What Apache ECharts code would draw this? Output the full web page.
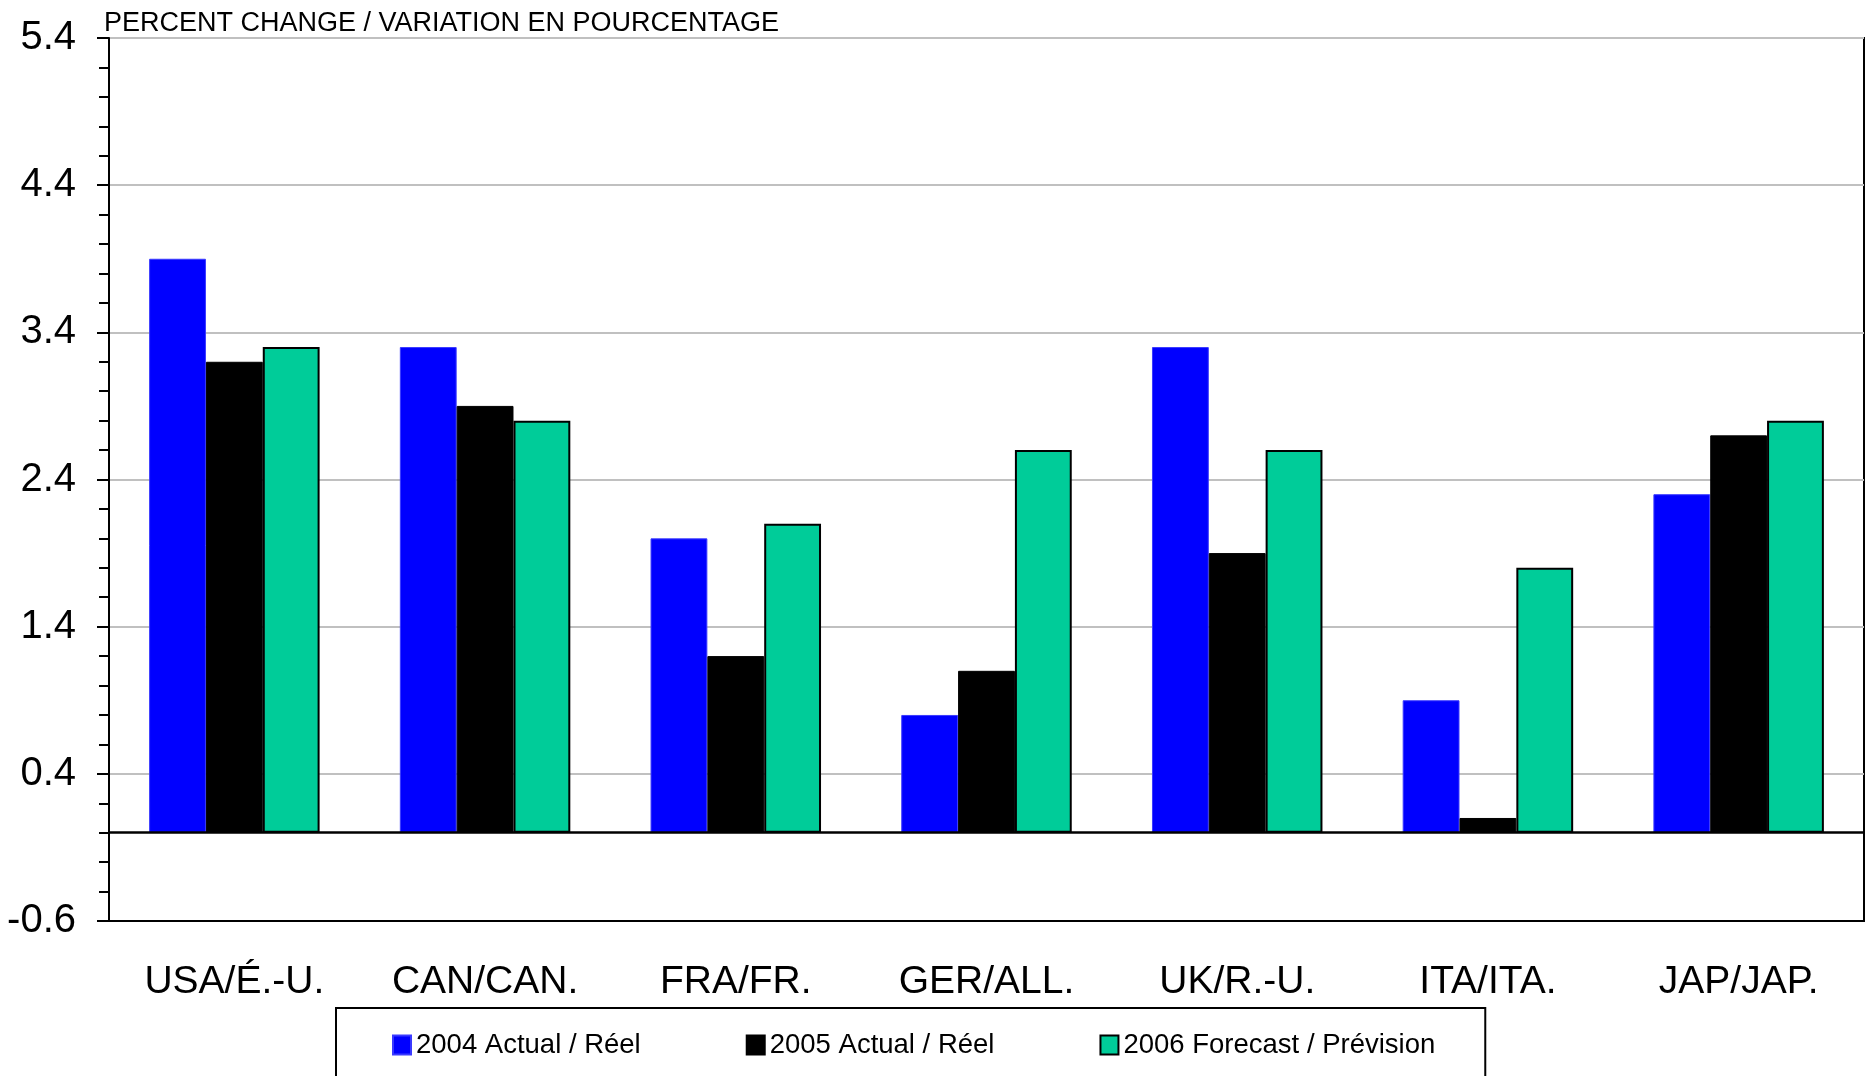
<!DOCTYPE html>
<html>
<head>
<meta charset="utf-8">
<style>
  html, body { margin: 0; padding: 0; background: #fff; }
  #chart { width: 1870px; height: 1076px; }
</style>
<script src="https://cdn.jsdelivr.net/npm/echarts@6/dist/echarts.min.js"></script>
</head>
<body>
<div id="chart"></div>
<script>
const categories = ['USA/É.-U.', 'CAN/CAN.', 'FRA/FR.', 'GER/ALL.', 'UK/R.-U.', 'ITA/ITA.', 'JAP/JAP.'];
const seriesNames = ['2004 Actual / Réel', '2005 Actual / Réel', '2006 Forecast / Prévision'];
const values2004 = [3.9, 3.3, 2.0, 0.8, 3.3, 0.9, 2.3];
const values2005 = [3.2, 2.9, 1.2, 1.1, 1.9, 0.1, 2.7];
const values2006 = [3.3, 2.8, 2.1, 2.6, 2.6, 1.8, 2.8];
const yMin = -0.6, yMax = 5.4, yStep = 1.0;
const titleText = 'PERCENT CHANGE / VARIATION EN POURCENTAGE';

const FONT = "'Liberation Sans', Arial, sans-serif";
const chart = echarts.init(document.getElementById('chart'), null, { renderer: 'canvas' });

chart.setOption({
  animation: false,
  backgroundColor: '#fff',
  textStyle: { fontFamily: FONT, color: '#000' },
  title: {
    text: titleText,
    left: 104, top: 10, padding: 0,
    textStyle: { fontFamily: FONT, fontSize: 27, fontWeight: 'normal', color: '#000' }
  },
  grid: {
    left: 109, right: 6, top: 38, bottom: 155,
    show: true, borderColor: '#000', borderWidth: 2, backgroundColor: 'transparent',
    containLabel: false
  },
  legend: {
    left: 336, top: 1008, orient: 'horizontal',
    padding: [23, 50, 60, 56],
    borderColor: '#000', borderWidth: 2,
    itemWidth: 18, itemHeight: 19, itemGap: 105,
    icon: 'rect',
    textStyle: { fontFamily: FONT, fontSize: 27.5, color: '#000' },
    data: seriesNames
  },
  xAxis: {
    type: 'category',
    data: categories,
    axisLine: { show: true, onZero: false, lineStyle: { color: '#000', width: 2 } },
    axisTick: { show: false },
    axisLabel: { margin: 42, fontFamily: FONT, fontSize: 39, color: '#000' },
    splitLine: { show: false }
  },
  yAxis: {
    type: 'value',
    min: yMin, max: yMax, interval: yStep,
    axisLine: { show: true, lineStyle: { color: '#000', width: 2 } },
    axisTick: { show: true, inside: false, length: 12, lineStyle: { color: '#000', width: 2 } },
    minorTick: { show: true, splitNumber: 5, length: 10, lineStyle: { color: '#000', width: 2 } },
    axisLabel: {
      margin: 33, fontFamily: FONT, fontSize: 40, color: '#000',
      formatter: v => v.toFixed(1)
    },
    splitLine: { show: true, lineStyle: { color: '#c0c0c0', width: 2 } }
  },
  series: [
    {
      name: seriesNames[0], type: 'bar', data: values2004,
      barGap: '0%', barCategoryGap: '32%',
      itemStyle: { color: '#0000ff', borderColor: '#3a3aff', borderWidth: 1 },
      markLine: {
        silent: true, symbol: 'none', label: { show: false },
        lineStyle: { color: '#000', width: 2.5, type: 'solid' },
        data: [{ yAxis: 0 }],
        z: 10
      }
    },
    {
      name: seriesNames[1], type: 'bar', data: values2005,
      barGap: '0%', barCategoryGap: '32%',
      itemStyle: { color: '#000000', borderColor: '#000', borderWidth: 1 }
    },
    {
      name: seriesNames[2], type: 'bar', data: values2006,
      barGap: '0%', barCategoryGap: '32%',
      itemStyle: { color: '#00cc99', borderColor: '#000', borderWidth: 2 }
    }
  ]
});
</script>
</body>
</html>
